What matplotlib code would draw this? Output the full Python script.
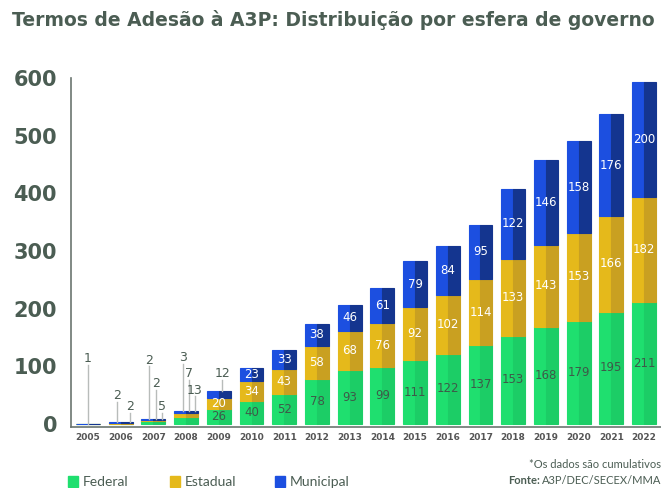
import matplotlib
matplotlib.use('Agg')
import matplotlib.pyplot as plt
from matplotlib.patches import Rectangle

years = list(range(2005, 2023))
federal = [0, 0, 5, 13, 26, 40, 52, 78, 93, 99, 111, 122, 137, 153, 168, 179, 195, 211]
estadual = [0, 2, 2, 7, 20, 34, 43, 58, 68, 76, 92, 102, 114, 133, 143, 153, 166, 182]
municipal = [1, 2, 2, 3, 12, 23, 33, 38, 46, 61, 79, 84, 95, 122, 146, 158, 176, 200]

text_col = '#4b5d53'
green = ('#1fdf6f', '#1ccd66')
yellow = ('#e5b91b', '#c9a021')
blue = ('#1c4fe0', '#14358f')

plt.rcParams['font.family'] = ['Lato', 'DejaVu Sans']

fig = plt.figure(figsize=(6.61, 4.88), dpi=100)
ax = fig.add_axes([71 / 661, 1 - 427 / 488, 1 - 71 / 661, (427 - 78) / 488])

w = 0.73
bottom = [0] * len(years)
series = [(federal, green, '#3d5a49'), (estadual, yellow, 'white'), (municipal, blue, 'white')]
for vals, (light, dark), lab_col in series:
    ax.bar([x - w / 4 for x in years], vals, w / 2, bottom=bottom, color=light,
           edgecolor=light, linewidth=0.8)
    ax.bar([x + w / 4 for x in years], vals, w / 2, bottom=bottom, color=dark,
           edgecolor=dark, linewidth=0.8)
    for x, v, b in zip(years, vals, bottom):
        if v >= 20:
            ax.text(x, b + v / 2, str(v), ha='center', va='center', fontsize=8.5,
                    color=lab_col, family='DejaVu Sans')
    bottom = [b + v for b, v in zip(bottom, vals)]

# call-outs for the small bars: (year, series index, x offset, label height)
callouts = [
    (2005, 2, 0.0, 113),
    (2006, 2, -0.11, 50), (2006, 1, 0.28, 31),
    (2007, 2, -0.13, 111), (2007, 1, 0.08, 70), (2007, 0, 0.26, 31),
    (2008, 2, -0.10, 115), (2008, 1, 0.09, 87), (2008, 0, 0.27, 59),
    (2009, 2, 0.10, 87),
]
all_series = [federal, estadual, municipal]
for yr, si, dx, ly in callouts:
    i = years.index(yr)
    top = sum(s[i] for s in all_series)
    ax.plot([yr + dx, yr + dx], [top, ly - 11], color='#b8bcba', lw=1, zorder=1)
    ax.text(yr + dx, ly, str(all_series[si][i]), ha='center', va='center',
            fontsize=9, color=text_col, family='DejaVu Sans')

ax.set_xlim(2004.48, 2022.52)
ax.set_ylim(-5, 600)
ax.set_xticks(years)
ax.set_xticklabels([str(y) for y in years], fontsize=6.5, color='#555555',
                   family='DejaVu Sans', fontweight='bold')
ax.set_yticks(range(0, 601, 100))
ax.set_yticklabels([str(v) for v in range(0, 601, 100)], fontsize=15,
                   color=text_col, family='DejaVu Sans', fontweight='bold')
ax.tick_params(length=0, pad=4)
ax.tick_params(axis='y', pad=10)
for s in ['top', 'right']:
    ax.spines[s].set_visible(False)
for s in ['left', 'bottom']:
    ax.spines[s].set_color('#6b7570')
    ax.spines[s].set_linewidth(1.2)

fig.text(12 / 661, 1 - 20 / 488, 'Termos de Adesão à A3P: Distribuição por esfera de governo',
         fontsize=13.5, fontweight='bold', color=text_col, va='center', ha='left',
         family='DejaVu Sans')

legend_items = [('Federal', green[0], 68), ('Estadual', yellow[0], 170), ('Municipal', blue[0], 275)]
for name, col, px in legend_items:
    fig.patches.append(Rectangle((px / 661, 1 - 487 / 488), 10 / 661, 11 / 488,
                                 transform=fig.transFigure, color=col))
    fig.text((px + 15) / 661, 1 - 482 / 488, name, fontsize=10, color=text_col,
             va='center', ha='left')

fig.text(1.0, 1 - 465 / 488, '*Os dados são cumulativos', fontsize=8, color=text_col,
         ha='right', va='center')
src = fig.text(1.0, 1 - 481 / 488, 'A3P/DEC/SECEX/MMA', fontsize=8, color=text_col,
               ha='right', va='center')
fig.canvas.draw()
bb = src.get_window_extent()
fig.text((bb.x0 - 2) / 661, 1 - 481 / 488, 'Fonte:', fontsize=8, color=text_col,
         ha='right', va='center', fontweight='bold')

fig.savefig('out.png', dpi=100)
